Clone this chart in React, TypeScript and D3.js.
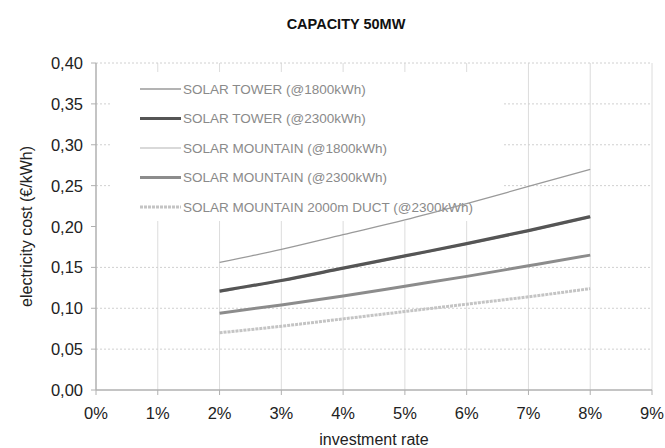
import React from "react";
import * as d3 from "d3";

const rates = [2, 3, 4, 5, 6, 7, 8];
const towerLow = [0.156, 0.172, 0.19, 0.208, 0.228, 0.249, 0.27];
const towerHigh = [0.121, 0.134, 0.149, 0.164, 0.179, 0.195, 0.212];
const mountainLow = [0.12, 0.133, 0.148, 0.163, 0.178, 0.194, 0.211];
const mountainHigh = [0.094, 0.104, 0.115, 0.127, 0.139, 0.152, 0.165];
const mountainDuct = [0.07, 0.078, 0.087, 0.096, 0.105, 0.114, 0.124];
const seriesNames = [
  "SOLAR TOWER (@1800kWh)",
  "SOLAR TOWER (@2300kWh)",
  "SOLAR MOUNTAIN (@1800kWh)",
  "SOLAR MOUNTAIN (@2300kWh)",
  "SOLAR MOUNTAIN 2000m DUCT (@2300kWh)",
];
const xTicks = [0, 1, 2, 3, 4, 5, 6, 7, 8, 9];
const yTicks = [0, 0.05, 0.1, 0.15, 0.2, 0.25, 0.3, 0.35, 0.4];
const yGrid = [0.05, 0.1, 0.15, 0.25, 0.3, 0.35, 0.4];

const styles = [
  { color: "#9a9a9a", width: 1.3, dash: "" },
  { color: "#555555", width: 3.2, dash: "" },
  { color: "#b4b4b4", width: 1.2, dash: "" },
  { color: "#8c8c8c", width: 3, dash: "" },
  { color: "#c4c4c4", width: 3, dash: "3,1" },
];

export default function App() {
  const W = 665, H = 448;
  const left = 96, right = 652, top = 63, bottom = 390;
  const x = d3.scaleLinear().domain([0, 9]).range([left, right]);
  const y = d3.scaleLinear().domain([0, 0.4]).range([bottom, top]);
  const data = [towerLow, towerHigh, mountainLow, mountainHigh, mountainDuct];
  const line = d3
    .line<number>()
    .x((_, i) => x(rates[i]))
    .y((d) => y(d))
    .curve(d3.curveMonotoneX);
  const font = "Liberation Sans, Arial, sans-serif";
  const drawOrder = [0, 2, 1, 3, 4];
  return (
    <svg width={W} height={H} style={{ position: "absolute", left: 0, top: 0, background: "#fff" }} fontFamily={font}>
      <rect x={0} y={0} width={W} height={H} fill="#fff" />
      <text x={346} y={29} textAnchor="middle" fontWeight="bold" fontSize={14.5} fill="#111">
        CAPACITY 50MW
      </text>
      {xTicks.slice(1).map((t) => (
        <line key={"vx" + t} x1={x(t)} x2={x(t)} y1={top} y2={bottom} stroke="#dcdcdc" strokeWidth={1} />
      ))}
      {yGrid.map((t) => (
        <line key={"hy" + t} x1={left} x2={right} y1={y(t)} y2={y(t)} stroke="#d0d0d0" strokeWidth={1} strokeDasharray="2,2" />
      ))}
      {/* legend */}
      <rect x={110} y={72} width={393} height={149} fill="#fff" />
      {seriesNames.map((n, i) => {
        const ly = 89 + i * 29.5;
        const s = styles[i];
        return (
          <g key={n}>
            <line x1={140} x2={181} y1={ly} y2={ly} stroke={s.color} strokeWidth={s.width} strokeDasharray={s.dash || undefined} />
            <text x={183} y={ly} dominantBaseline="central" fontSize={13.5} fill="#8a8a8a">
              {n}
            </text>
          </g>
        );
      })}
      {/* axes */}
      <line x1={left} x2={left} y1={top} y2={bottom} stroke="#b0b0b0" strokeWidth={1.5} />
      <line x1={left} x2={right} y1={bottom} y2={bottom} stroke="#b0b0b0" strokeWidth={1.5} />
      {yTicks.map((t) => (
        <g key={"yt" + t}>
          <line x1={left - 5} x2={left} y1={y(t)} y2={y(t)} stroke="#b0b0b0" strokeWidth={1} />
          <text x={83} y={y(t)} textAnchor="end" dominantBaseline="central" fontSize={16.5} fill="#222">
            {d3.format(".2f")(t).replace(".", ",")}
          </text>
        </g>
      ))}
      {xTicks.map((t) => (
        <g key={"xt" + t}>
          <line x1={x(t)} x2={x(t)} y1={bottom} y2={bottom + 5} stroke="#b0b0b0" strokeWidth={1} />
          <text x={x(t)} y={413} textAnchor="middle" dominantBaseline="central" fontSize={16.5} fill="#222">
            {t + "%"}
          </text>
        </g>
      ))}
      <text x={374} y={439} textAnchor="middle" dominantBaseline="central" fontSize={16} fill="#222">
        investment rate
      </text>
      <text
        transform={`translate(26, ${(top + bottom) / 2}) rotate(-90)`}
        textAnchor="middle"
        dominantBaseline="central"
        fontSize={16}
        fill="#222"
      >
        electricity cost (€/kWh)
      </text>
      {/* series */}
      {drawOrder.map((i) => (
        <path
          key={"s" + i}
          d={line(data[i]) || ""}
          fill="none"
          stroke={styles[i].color}
          strokeWidth={styles[i].width}
          strokeDasharray={styles[i].dash || undefined}
        />
      ))}
    </svg>
  );
}
